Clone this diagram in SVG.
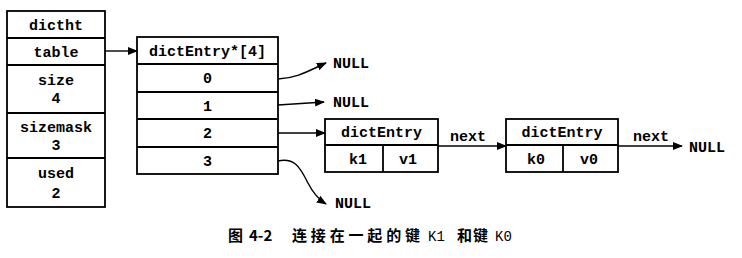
<svg xmlns="http://www.w3.org/2000/svg" width="742" height="258" viewBox="0 0 742 258">
<style>
.box{fill:#fff;stroke:#000;stroke-width:1.8}
.ln{fill:none;stroke:#000;stroke-width:1.8}
.t{font-family:"Liberation Mono","Courier New",monospace;font-weight:bold;font-size:15px;fill:#000;text-anchor:middle}
.tl{font-family:"Liberation Mono","Courier New",monospace;font-weight:bold;font-size:15px;fill:#000}
.c{fill:none;stroke:#000;stroke-width:1.4}
.cap{font-family:"Noto Sans CJK SC","Noto Sans",sans-serif;font-weight:bold;font-size:15px;fill:#000}
.capm{font-family:"Liberation Mono",monospace;font-size:14px;fill:#000}
</style>
<defs>
<marker id="ah" markerWidth="10" markerHeight="8" refX="9" refY="4" orient="auto" markerUnits="userSpaceOnUse">
<path d="M0,0 L10,4 L0,8 Z" fill="#000"/>
</marker>
</defs>
<g id="dictht">
<rect class="box" x="7" y="11" width="98" height="196"/>
<line class="ln" x1="7" y1="38" x2="105" y2="38"/>
<line class="ln" x1="7" y1="65" x2="105" y2="65"/>
<line class="ln" x1="7" y1="113" x2="105" y2="113"/>
<line class="ln" x1="7" y1="158" x2="105" y2="158"/>
<text class="t" x="56" y="30">dictht</text>
<text class="t" x="56" y="57">table</text>
<text class="t" x="56" y="85">size</text>
<text class="t" x="56" y="103">4</text>
<text class="t" x="56" y="132">sizemask</text>
<text class="t" x="56" y="150">3</text>
<text class="t" x="56" y="178">used</text>
<text class="t" x="56" y="198">2</text>
</g>
<g id="table">
<rect class="box" x="137" y="37" width="141" height="137"/>
<line class="ln" x1="137" y1="64" x2="278" y2="64"/>
<line class="ln" x1="137" y1="92" x2="278" y2="92"/>
<line class="ln" x1="137" y1="119" x2="278" y2="119"/>
<line class="ln" x1="137" y1="147" x2="278" y2="147"/>
<text class="t" x="207.5" y="56">dictEntry*[4]</text>
<text class="t" x="207.5" y="83">0</text>
<text class="t" x="207.5" y="110.5">1</text>
<text class="t" x="207.5" y="138">2</text>
<text class="t" x="207.5" y="165.5">3</text>
</g>
<g id="entry1">
<rect class="box" x="325" y="119" width="113" height="53"/>
<line class="ln" x1="325" y1="145" x2="438" y2="145"/>
<line class="ln" x1="383" y1="145" x2="383" y2="172"/>
<text class="t" x="381.5" y="137">dictEntry</text>
<text class="t" x="358" y="164">k1</text>
<text class="t" x="408" y="164">v1</text>
</g>
<g id="entry0">
<rect class="box" x="506" y="119" width="112" height="53"/>
<line class="ln" x1="506" y1="145" x2="618" y2="145"/>
<line class="ln" x1="563" y1="145" x2="563" y2="172"/>
<text class="t" x="562" y="137">dictEntry</text>
<text class="t" x="536" y="164">k0</text>
<text class="t" x="589" y="164">v0</text>
</g>
<g id="nulls">
<text class="tl" x="333" y="68">NULL</text>
<text class="tl" x="333" y="107">NULL</text>
<text class="tl" x="335" y="208">NULL</text>
<text class="tl" x="689" y="152">NULL</text>
</g>
<g id="connectors">
<line class="c" x1="105" y1="51" x2="137" y2="51" marker-end="url(#ah)"/>
<path class="c" d="M278,79 C298,78 310,70 326,63" marker-end="url(#ah)"/>
<path class="c" d="M278,105 L324,102" marker-end="url(#ah)"/>
<line class="c" x1="278" y1="133" x2="325" y2="133" marker-end="url(#ah)"/>
<path class="c" d="M278,161 C296,157 301,170 308,183 C313,193 318,199 326,204" marker-end="url(#ah)"/>
<line class="c" x1="438" y1="146" x2="506" y2="146" marker-end="url(#ah)"/>
<text class="tl" x="450" y="141">next</text>
<line class="c" x1="618" y1="146" x2="682" y2="146" marker-end="url(#ah)"/>
<text class="tl" x="633" y="141">next</text>
</g>
<g id="caption">
<text class="cap" x="228" y="241">图</text>
<text class="cap" x="249" y="241">4-2</text>
<text class="cap" x="292" y="241" textLength="128" lengthAdjust="spacing">连接在一起的键</text>
<text class="capm" x="428" y="241">K1</text>
<text class="cap" x="457" y="241" textLength="31" lengthAdjust="spacing">和键</text>
<text class="capm" x="495" y="241">K0</text>
</g>
</svg>
